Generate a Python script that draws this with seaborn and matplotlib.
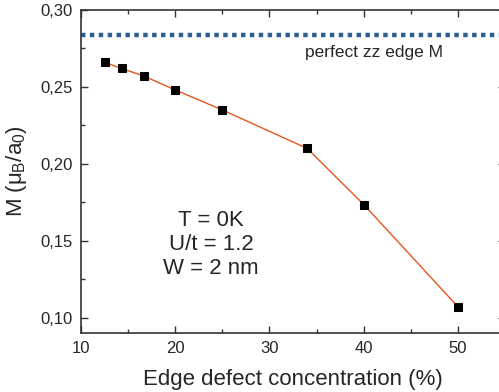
import numpy as np
import pandas as pd
import seaborn as sns
import matplotlib.pyplot as plt
from matplotlib.ticker import MultipleLocator, FuncFormatter

# data
defect_pct = [12.5, 14.3, 16.7, 20, 25, 34, 40, 50]
magnetization = [0.266, 0.262, 0.257, 0.248, 0.235, 0.210, 0.1735, 0.107]
perfect_zz_M = 0.284

sns.set_style("ticks")
plt.rcParams['font.family'] = ['Liberation Sans', 'DejaVu Sans']
plt.rcParams['mathtext.fontset'] = 'custom'
plt.rcParams['mathtext.rm'] = 'Liberation Sans'
plt.rcParams['mathtext.it'] = 'Liberation Sans'

df = pd.DataFrame({"x": defect_pct, "M": magnetization})

fig = plt.figure(figsize=(4.99, 3.92), dpi=100)
ax = fig.add_axes([0.1623, 0.1505, 0.85, 0.824])

sns.lineplot(data=df, x="x", y="M", ax=ax, color="#e8551e", lw=1,
             marker="s", markersize=5.5, markerfacecolor="black",
             markeredgecolor="black")
ax.axhline(perfect_zz_M, color="#2b5f91", lw=3.2, ls=(0, (1, 1)))

ax.set_xlim(10, 55)
ax.set_ylim(0.09, 0.30)
ax.xaxis.set_major_locator(MultipleLocator(10))
ax.xaxis.set_minor_locator(MultipleLocator(5))
ax.yaxis.set_major_locator(MultipleLocator(0.05))
ax.yaxis.set_minor_locator(MultipleLocator(0.025))
ax.yaxis.set_major_formatter(FuncFormatter(lambda v, p: f"{v:.2f}".replace(".", ",")))
ax.tick_params(which="both", direction="in", top=True, right=True, labelsize=12,
               color="#333333")
ax.tick_params(which="major", length=5, width=1, pad=6)
ax.tick_params(which="minor", length=3, width=1)
for s in ax.spines.values():
    s.set_color("#333333")
    s.set_linewidth(1.2)

ax.set_xlabel("Edge defect concentration (%)", fontsize=16, labelpad=9)
ax.set_ylabel(r"M ($\mu_B$/a$_0$)", fontsize=16, labelpad=8)

ax.text(41.1, 0.2775, "perfect zz edge M", ha="center", va="top", fontsize=12.5)
ax.text(23.8, 0.163, "T = 0K", ha="center", va="center", fontsize=16)
ax.text(23.8, 0.1475, "U/t = 1.2", ha="center", va="center", fontsize=16)
ax.text(23.8, 0.132, "W = 2 nm", ha="center", va="center", fontsize=16)

plt.savefig("out.png", dpi=100)
